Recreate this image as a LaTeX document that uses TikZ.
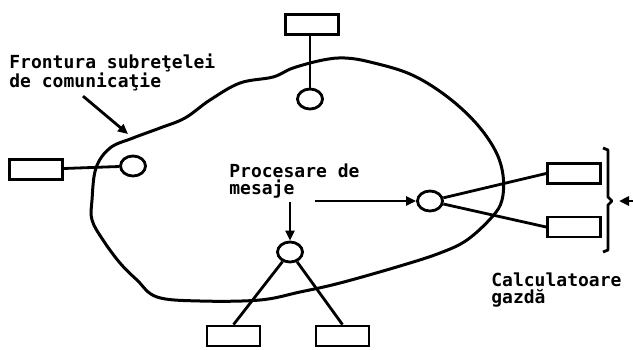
\documentclass[tikz,border=0pt]{standalone}
\usepackage{fontspec}
\newfontfamily\dotfont{DejaVu Sans Mono}
\usetikzlibrary{arrows.meta, calc, shapes.geometric}

\begin{document}
\begin{tikzpicture}[x=1pt, y=-1pt, >={Triangle[length=10pt, width=9pt]}, line width=2.8pt,
  every node/.style={font=\dotfont\bfseries\fontsize{18}{17}\selectfont},
  host/.style={draw, minimum width=53pt, minimum height=20pt, inner sep=0pt},
  imp/.style={draw, ellipse, minimum width=25pt, minimum height=20pt, inner sep=0pt},
  lbl/.style={align=left, inner sep=0pt, anchor=north west}]
  \useasboundingbox (0,0) rectangle (633,349);

  % subnet frontier
  \draw[line width=3pt] plot[smooth cycle, tension=0.6] coordinates {
    (92,200) (96,168) (110,148) (133,138) (160,128) (185,118) (210,100) (240,83)
    (273,77) (293,68) (323,60) (345,58) (370,62) (410,74) (445,95) (475,122)
    (495,150) (503,175) (502,200) (492,217) (467,240) (440,253) (400,266)
    (340,283) (300,292) (260,300) (200,301) (157,297) (137,280) (120,263)
    (103,240) (92,220)};

  % hosts and message processors
  \node[host] (hostTop) at (312,24.5) {};
  \node[imp] (impTop) at (310,99) {};
  \node[host] (hostLeft) at (36,169.5) {};
  \node[imp] (impLeft) at (133,166) {};
  \node[imp] (impRight) at (430,201) {};
  \node[host] (hostRA) at (574,173.5) {};
  \node[host] (hostRB) at (574,227) {};
  \node[imp] (impBottom) at (290,252) {};
  \node[host] (hostBL) at (233.5,336) {};
  \node[host] (hostBR) at (342.5,336) {};

  \draw (hostTop.south -| impTop) -- (impTop);
  \draw (hostLeft) -- (impLeft);
  \draw (impRight) -- (hostRA.west);
  \draw (impRight) -- (hostRB.west);
  \draw (impBottom) -- (hostBL.north);
  \draw (impBottom) -- (hostBR.north);

  % labels
  \node[lbl] (frontLabel) at (8,52) {Frontura subreţelei\\de comunicaţie};
  \node[lbl] (procLabel) at (228,162) {Procesare de\\mesaje};
  \node[lbl] (hostLabel) at (490,271) {Calculatoare\\gazdă};

  \coordinate (frontPt) at (128,134);
  \draw[->] ($(frontLabel.south west)+(75,4)$) -- (frontPt);
  \coordinate (procOut) at (315,201);
  \coordinate (procDown) at (290,202);
  \draw[->] (procOut) -- (impRight.west);
  \draw[->] (procDown) -- (impBottom.north);

  % bracket round the hosts
  \draw[line join=round] (603,148) -- (608,150) -- (608,197) -- (612,201)
    -- (608,205) -- (608,250) -- (603,252);
  \coordinate (bracketTip) at (619,201);
  \coordinate (bracketIn) at (633,201);
  \draw[->] (bracketIn) -- (bracketTip);
\end{tikzpicture}
\end{document}
